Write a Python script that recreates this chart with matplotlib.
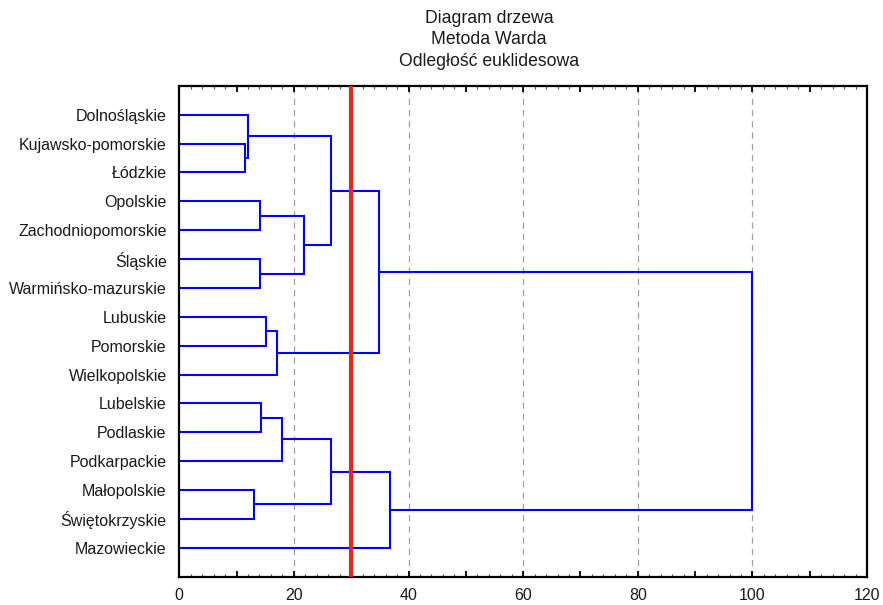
import matplotlib
matplotlib.use('Agg')
import matplotlib.pyplot as plt
from matplotlib.ticker import MultipleLocator, FuncFormatter

plt.rcParams['font.family'] = ['Liberation Sans', 'DejaVu Sans']

# leaf labels, top to bottom
labels = ['Dolnośląskie', 'Kujawsko-pomorskie', 'Łódzkie', 'Opolskie',
          'Zachodniopomorskie', 'Śląskie', 'Warmińsko-mazurskie', 'Lubuskie',
          'Pomorskie', 'Wielkopolskie', 'Lubelskie', 'Podlaskie',
          'Podkarpackie', 'Małopolskie', 'Świętokrzyskie', 'Mazowieckie']

# linkage: clusters a, b joined at distance h (new ids start at 16)
merge_a = [1, 0, 13, 3, 5, 10, 7, 22, 21, 19, 17, 24, 26, 27, 28]
merge_b = [2, 16, 14, 4, 6, 11, 8, 9, 12, 20, 25, 18, 23, 15, 29]
merge_h = [11.4, 12.0, 13.0, 14.1, 14.1, 14.3, 15.1, 17.0, 17.9, 21.8,
           26.5, 26.5, 34.8, 36.8, 100.0]

cut_level = 30

fig = plt.figure(figsize=(8.83, 6.05), dpi=100)
ax = fig.add_axes([0.203, 0.047, 0.779, 0.811])

pos = {i: i + 1 for i in range(len(labels))}
height = {i: 0.0 for i in range(len(labels))}
for k, (a, b, h) in enumerate(zip(merge_a, merge_b, merge_h)):
    ya, yb = pos[a], pos[b]
    ax.plot([height[a], h, h, height[b]], [ya, ya, yb, yb],
            color='#0000ff', lw=1.5, solid_joinstyle='miter')
    new = len(labels) + k
    pos[new] = (ya + yb) / 2
    height[new] = h

for gx in range(20, 120, 20):
    ax.axvline(gx, color='#a0a0a0', ls=(0, (5, 4)), lw=0.9, zorder=0)

ax.axvline(cut_level, color='#e02a1e', lw=3, zorder=3)

ax.set_xlim(0, 120)
ax.set_ylim(len(labels) + 1, 0)
ax.set_yticks(range(1, len(labels) + 1))
ax.set_yticklabels(labels, fontsize=11.5, color='#1a1a1a')
ax.xaxis.set_major_locator(MultipleLocator(10))
ax.xaxis.set_minor_locator(MultipleLocator(2))
ax.xaxis.set_major_formatter(FuncFormatter(lambda v, p: '%d' % v if v % 20 == 0 else ''))
ax.tick_params(axis='x', which='major', direction='in', top=True, bottom=True,
               length=4, width=1.3, labelsize=11.5, pad=8, labelcolor='#1a1a1a')
ax.tick_params(axis='x', which='minor', direction='in', top=True, bottom=True,
               length=2, width=0.8, color='#555555')
ax.tick_params(axis='y', length=0, pad=9)
for s in ax.spines.values():
    s.set_linewidth(1.6)

fig.text(489 / 883, 1 - 10 / 605, 'Diagram drzewa\nMetoda Warda\nOdległość euklidesowa',
         ha='center', va='top', fontsize=12.7, linespacing=1.33, color='#1a1a1a')

fig.savefig('out.png', dpi=100)
